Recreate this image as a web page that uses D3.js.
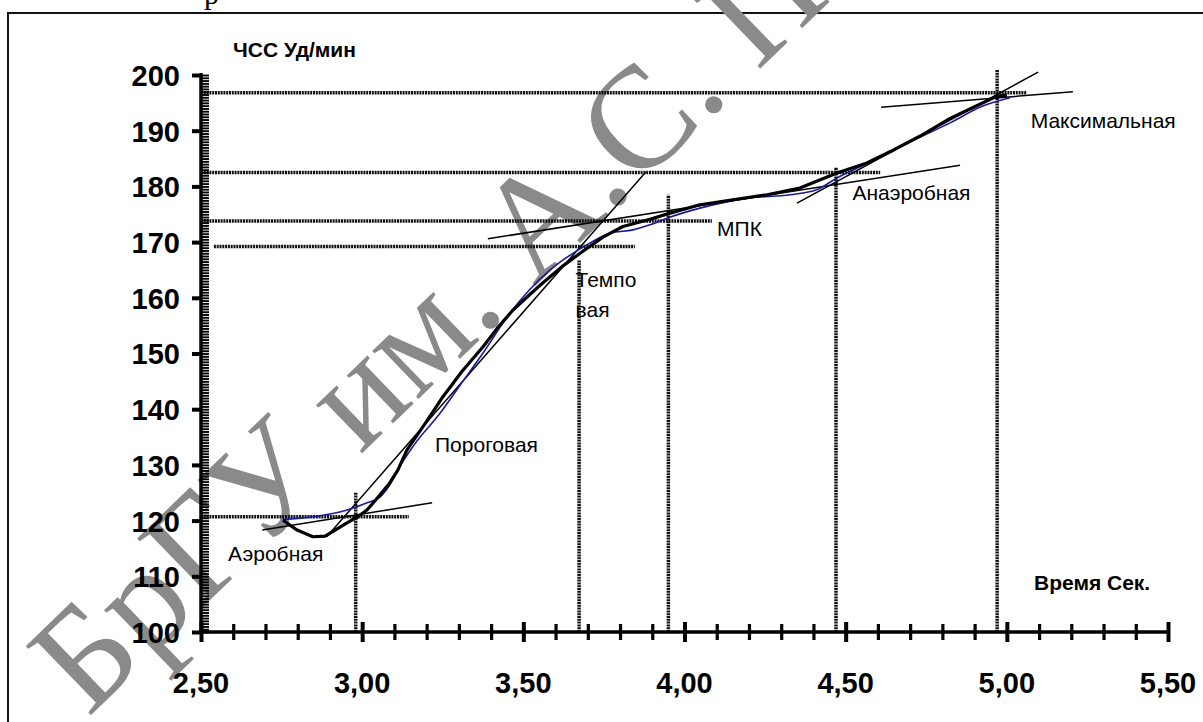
<!DOCTYPE html>
<html>
<head>
<meta charset="utf-8">
<script src="https://cdn.jsdelivr.net/npm/d3@7"></script>
<style>
    body { margin: 0; background: #fff; }
    svg { display: block; }
    text { font-family: "Liberation Sans", Arial, sans-serif; }
</style>
</head>
<body>
<div id="chart"></div>
<script>
// thick black curve: measured heart rate
const hrTime = [2.754, 2.798, 2.847, 2.885, 2.916, 2.953, 2.984, 3.015, 3.055, 3.086, 3.111, 3.139, 3.20, 3.25, 3.31, 3.375, 3.42, 3.468, 3.52, 3.561, 3.62, 3.676, 3.747, 3.809, 3.893, 3.955, 4.048, 4.15, 4.256, 4.358, 4.473, 4.566, 4.647, 4.73, 4.824, 4.90, 4.97, 5.0];
const hrValue = [120.1, 118.3, 117.1, 117.2, 118.3, 119.6, 120.6, 121.9, 124.6, 126.8, 129.1, 132.7, 137.8, 142.2, 146.8, 151.2, 154.6, 157.8, 160.6, 162.7, 165.6, 168.0, 170.9, 172.8, 174.1, 175.2, 176.7, 177.6, 178.5, 179.7, 182.4, 184.2, 186.5, 189.0, 192.2, 194.3, 196.2, 196.4];

// thin blue curve: smoothed trend
const trendTime = [2.754, 2.80, 2.86, 2.92, 2.953, 3.015, 3.055, 3.095, 3.111, 3.16, 3.242, 3.30, 3.375, 3.459, 3.52, 3.583, 3.685, 3.769, 3.84, 3.893, 3.946, 4.048, 4.2, 4.327, 4.41, 4.473, 4.60, 4.70, 4.824, 4.92, 5.01];
const trendValue = [120.2, 120.4, 120.8, 121.4, 121.9, 123.2, 124.2, 127.3, 129.1, 133.5, 139.3, 144.0, 150.1, 157.3, 161.5, 165.0, 169.1, 171.6, 172.2, 173.1, 174.3, 176.1, 177.9, 178.5, 179.4, 181.5, 185.0, 188.0, 191.4, 194.3, 195.9];

// tangent lines [time, hr] -> [time, hr]
const tangentFrom = [[2.69, 118.3], [2.89, 117.1], [3.39, 170.6], [4.349, 177.0], [4.61, 194.2]];
const tangentTo = [[3.217, 123.2], [3.88, 182.6], [4.855, 183.8], [5.097, 200.5], [5.205, 197.0]];

// dotted threshold lines
const levelHr = [196.8, 182.5, 173.8, 169.2, 120.7];
const levelFrom = [2.5, 2.5, 2.5, 2.54, 2.5];
const levelTo = [5.06, 4.607, 4.085, 3.846, 3.145];
const markTime = [2.98, 3.673, 3.95, 4.47, 4.97];
const markTop = [125.0, 166.8, 178.5, 183.5, 201.0];

// zone labels
const zoneNames = ['Аэробная', 'Пороговая', 'Темпо', 'вая', 'МПК', 'Анаэробная', 'Максимальная'];
const zoneTime = [2.584, 3.226, 3.662, 3.662, 4.101, 4.521, 5.074];
const zoneHr = [112.7, 132.3, 162.0, 156.6, 171.1, 177.6, 190.5];

const xTicks = [2.5, 3.0, 3.5, 4.0, 4.5, 5.0, 5.5];
const yTicks = [100, 110, 120, 130, 140, 150, 160, 170, 180, 190, 200];

let init = () => {
    const width = 1203, height = 722;

    const svg = d3.select('#chart').append('svg')
        .attr('width', width)
        .attr('height', height);

    const x = d3.scaleLinear().domain([2.5, 5.5]).range([201, 1168]);
    const y = d3.scaleLinear().domain([100, 200]).range([632, 75]);

    // page fragment + frame
    svg.append('text')
        .attr('x', 204).attr('y', 4)
        .style('font-family', '"Liberation Serif", serif')
        .style('font-size', '30px')
        .text('р');

    svg.append('path')
        .attr('d', 'M8,722V13H1203')
        .attr('fill', 'none')
        .attr('stroke', '#111')
        .attr('stroke-width', 2);

    // watermark
    svg.append('text')
        .attr('transform', 'translate(88,718) rotate(-44)')
        .style('font-family', '"Liberation Serif", "Times New Roman", serif')
        .style('font-size', '145px')
        .attr('fill', '#8a8a8a')
        .text('БрГУ им. А.С. П');

    // dotted horizontals
    svg.append('g').selectAll('line')
        .data(levelHr)
        .join('line')
        .attr('x1', (d, i) => x(levelFrom[i]))
        .attr('x2', (d, i) => x(levelTo[i]))
        .attr('y1', d => y(d))
        .attr('y2', d => y(d))
        .attr('stroke', '#111')
        .attr('stroke-width', 3.5)
        .attr('stroke-dasharray', '2 0.8');

    // dotted verticals
    svg.append('g').selectAll('line')
        .data(markTime)
        .join('line')
        .attr('x1', d => x(d))
        .attr('x2', d => x(d))
        .attr('y1', y(100))
        .attr('y2', (d, i) => y(markTop[i]))
        .attr('stroke', '#111')
        .attr('stroke-width', 3.5)
        .attr('stroke-dasharray', '2 0.8');

    // tangents
    svg.append('g').selectAll('line')
        .data(tangentFrom)
        .join('line')
        .attr('x1', d => x(d[0]))
        .attr('y1', d => y(d[1]))
        .attr('x2', (d, i) => x(tangentTo[i][0]))
        .attr('y2', (d, i) => y(tangentTo[i][1]))
        .attr('stroke', '#000')
        .attr('stroke-width', 1.5);

    // trend (blue) and measured (black) curves
    const trendLine = d3.line()
        .x((d, i) => x(trendTime[i]))
        .y(d => y(d))
        .curve(d3.curveMonotoneX);

    svg.append('path')
        .datum(trendValue)
        .attr('d', trendLine)
        .attr('fill', 'none')
        .attr('stroke', '#1a1a9a')
        .attr('stroke-width', 1.6);

    const hrLine = d3.line()
        .x((d, i) => x(hrTime[i]))
        .y(d => y(d));

    svg.append('path')
        .datum(hrValue)
        .attr('d', hrLine)
        .attr('fill', 'none')
        .attr('stroke', '#000')
        .attr('stroke-width', 3.2)
        .attr('stroke-linejoin', 'round');

    // y axis: dense minor band, major ticks, labels
    svg.append('g')
        .attr('transform', `translate(${x(2.5)},0)`)
        .call(d3.axisRight(y).tickValues(d3.range(100, 200.01, 0.5)).tickSize(8).tickFormat(''))
        .call(g => g.select('.domain').remove())
        .call(g => g.selectAll('.tick line').attr('stroke', '#000').attr('stroke-width', 1.9));

    svg.append('g')
        .attr('transform', `translate(${x(2.5)},0)`)
        .call(d3.axisLeft(y).tickValues(yTicks).tickSize(9).tickPadding(12))
        .call(g => g.select('.domain').remove())
        .call(g => g.selectAll('.tick line').attr('stroke', '#000').attr('stroke-width', 4))
        .call(g => g.selectAll('.tick text')
            .attr('fill', '#000')
            .style('font-family', '"Liberation Sans", Arial, sans-serif')
            .style('font-size', '29px')
            .style('font-weight', 'bold')
            .attr('dy', '0.36em'));

    svg.append('line')
        .attr('x1', x(2.5)).attr('x2', x(2.5))
        .attr('y1', y(100) + 2).attr('y2', y(200) - 2)
        .attr('stroke', '#000')
        .attr('stroke-width', 3.5);

    // x axis: minor ticks every 0.1 crossing the line
    const minorX = d3.range(25, 56).map(v => v / 10);
    svg.append('g')
        .attr('transform', `translate(0,${y(100)})`)
        .call(d3.axisBottom(x).tickValues(minorX).tickSize(10).tickFormat(''))
        .call(g => g.select('.domain').remove())
        .call(g => g.selectAll('.tick line')
            .attr('y1', d => Math.round(d * 10) % 5 === 0 ? -10 : -8)
            .attr('y2', d => Math.round(d * 10) % 5 === 0 ? 10 : 8)
            .attr('stroke', '#000')
            .attr('stroke-width', d => Math.round(d * 10) % 5 === 0 ? 4 : 3.2));

    svg.append('line')
        .attr('x1', x(2.5) - 2).attr('x2', x(5.5))
        .attr('y1', y(100)).attr('y2', y(100))
        .attr('stroke', '#000')
        .attr('stroke-width', 3.5);

    svg.append('g').selectAll('text')
        .data(xTicks)
        .join('text')
        .attr('x', d => x(d))
        .attr('y', 693)
        .attr('text-anchor', 'middle')
        .style('font-size', '29px')
        .style('font-weight', 'bold')
        .text(d => d.toFixed(2).replace('.', ','));

    // axis titles
    svg.append('text')
        .attr('x', 233).attr('y', 57)
        .style('font-size', '21px')
        .style('font-weight', 'bold')
        .text('ЧСС Уд/мин');

    svg.append('text')
        .attr('x', 1034).attr('y', 590)
        .style('font-size', '21px')
        .style('font-weight', 'bold')
        .text('Время Сек.');

    // zone labels
    svg.append('g').selectAll('text')
        .data(zoneNames)
        .join('text')
        .attr('x', (d, i) => x(zoneTime[i]))
        .attr('y', (d, i) => y(zoneHr[i]))
        .style('font-size', '21px')
        .text(d => d);
}

init();
</script>
</body>
</html>
